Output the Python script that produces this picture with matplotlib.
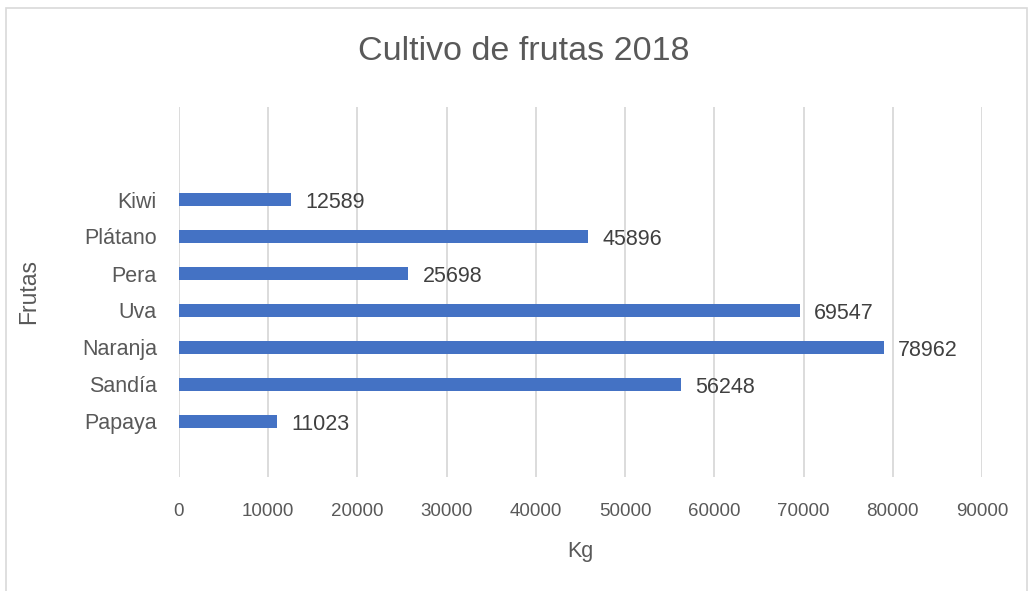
import matplotlib
matplotlib.use("Agg")
import matplotlib.pyplot as plt
from matplotlib.patches import Rectangle

frutas = ["Papaya", "Sandía", "Naranja", "Uva", "Pera", "Plátano", "Kiwi"]
kg = [11023, 56248, 78962, 69547, 25698, 45896, 12589]
x_ticks = [0, 10000, 20000, 30000, 40000, 50000, 60000, 70000, 80000, 90000]

BAR_COLOR = "#4472C4"
GRID_COLOR = "#D9D9D9"
TEXT_COLOR = "#595959"
LABEL_COLOR = "#404040"

plt.rcParams["font.family"] = ["Liberation Sans", "DejaVu Sans"]

fig = plt.figure(figsize=(10.34, 5.91), dpi=100)
# chart-area border (bottom edge runs past the image)
fig.patches.append(Rectangle((6 / 1034, -0.02), 1021 / 1034, 1.02 - 8 / 591,
                             transform=fig.transFigure, fill=False,
                             edgecolor="#D9D9D9", linewidth=1.2))

ax = fig.add_axes([179 / 1034, 1 - 477 / 591, (982 - 179) / 1034, (477 - 107) / 591])
ypos = list(range(len(frutas)))
ax.barh(ypos, kg, height=0.36, color=BAR_COLOR, zorder=3)
for y, v in zip(ypos, kg):
    ax.text(v + 1600, y - 0.08, str(v), va="center", ha="left",
            fontsize=15.5, color=LABEL_COLOR)

ax.set_xlim(0, 90000)
ax.set_ylim(-1.5, 8.5)
ax.set_xticks(x_ticks)
ax.set_xticklabels([str(t) for t in x_ticks], fontsize=13.5, color=TEXT_COLOR)
ax.set_yticks(ypos)
ax.set_yticklabels(frutas, fontsize=15.5, color=TEXT_COLOR)
ax.tick_params(axis="both", length=0)
ax.tick_params(axis="x", pad=19)
ax.tick_params(axis="y", pad=16)
ax.grid(axis="x", color=GRID_COLOR, linewidth=1.3, zorder=0)
for s in ax.spines.values():
    s.set_visible(False)

ax.set_xlabel("Kg", fontsize=15.5, color=TEXT_COLOR, labelpad=15)
ax.set_ylabel("Frutas", fontsize=16.5, color=TEXT_COLOR, labelpad=30)
fig.text(524 / 1034, 1 - 51 / 591, "Cultivo de frutas 2018", ha="center", va="center",
         fontsize=24.5, color=TEXT_COLOR)

fig.savefig("out.png", dpi=100)
